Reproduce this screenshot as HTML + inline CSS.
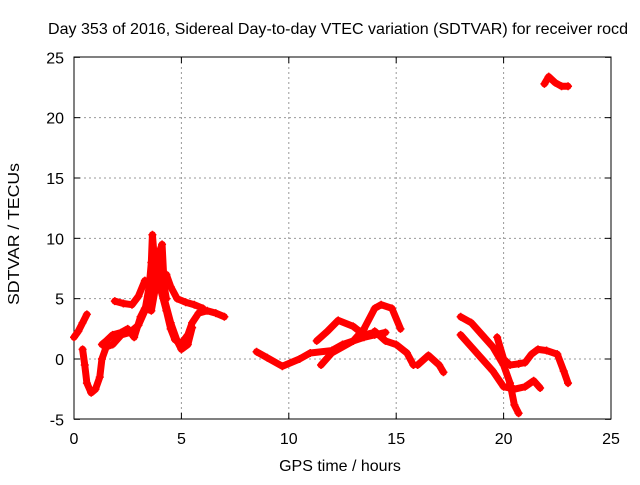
<!DOCTYPE html>
<html><head><meta charset="utf-8"><style>
body{margin:0;background:#fff;}
svg text{font-family:"Liberation Sans",sans-serif;font-size:16px;fill:#000;}
</style></head><body>
<svg width="640" height="480">
<g id="grid"></g>
<g id="axes"></g>
<g id="series"></g>
<text x="338" y="34" text-anchor="middle" textLength="580" lengthAdjust="spacingAndGlyphs">Day 353 of 2016, Sidereal Day-to-day VTEC variation (SDTVAR) for receiver rocd</text>
<text x="340" y="471" text-anchor="middle">GPS time / hours</text>
<text x="0" y="0" text-anchor="middle" textLength="142" lengthAdjust="spacingAndGlyphs" transform="translate(19,234) rotate(-90)">SDTVAR / TECUs</text>
</svg>
<script>
const xTicks=[0,5,10,15,20,25];
const yTicks=[-5,0,5,10,15,20,25];
const arcA=[[0,1.8],[0.2,2.3],[0.4,3],[0.6,3.7]];
const arcB=[[0.4,0.8],[0.5,-0.5],[0.6,-2],[0.8,-2.8],[1,-2.5],[1.2,-1.5],[1.3,0],[1.5,1],[1.8,1.2],[2.2,2],[2.6,2.2],[3,2.8],[3.3,4],[3.5,6],[3.6,8],[3.65,10.3],[3.8,7],[4,6],[4.3,4],[4.5,2.5],[4.7,1.6],[5,1.3],[5.3,2],[5.5,3],[5.8,3.8],[6.2,4],[6.6,3.8],[7,3.5]];
const arcC=[[1.3,1.2],[1.5,1.5],[1.8,2],[2.2,2.2],[2.5,2.5],[2.8,1.8],[3.1,3.5],[3.3,4.2],[3.6,4],[3.8,6],[4,9],[4.1,9.5],[4.2,6],[4.3,5]];
const arcD=[[1.9,4.8],[2.3,4.6],[2.7,4.5],[3,5.2],[3.3,6.5],[3.6,6.2],[4,6.8],[4.3,7],[4.5,6],[4.8,5],[5.2,4.7],[5.6,4.5],[6,4.2]];
const arcE=[[3.9,6.5],[4.2,5],[4.5,3],[4.8,1.5],[5,0.8],[5.3,1.2],[5.5,2.6]];
const arcF=[[8.5,0.6],[9,0.1],[9.7,-0.6],[10.5,0],[11,0.5],[12,0.7],[12.5,1.2],[13,1.5],[13.5,1.8],[14,2],[14.5,2.2]];
const arcG=[[11.3,1.5],[11.8,2.3],[12.3,3.2],[13,2.7],[13.5,2],[14,2.2]];
const arcH=[[11.5,-0.5],[12,0.5],[13,1.5],[13.5,2.5],[14,4.2],[14.3,4.5],[14.8,4.2],[15.2,2.5]];
const arcI=[[14,2.3],[14.5,1.5],[15,1.2],[15.5,0.5],[15.8,-0.5]];
const arcJ=[[16,-0.5],[16.5,0.3],[17,-0.5],[17.2,-1.1]];
const arcK=[[18,3.5],[18.5,3],[19,2],[19.5,1],[20,-0.5],[20.3,-2],[20.5,-3.8],[20.7,-4.5]];
const arcL=[[18,2],[18.5,1],[19,0],[19.5,-1],[20,-2.3],[20.5,-2.5],[21,-2.3],[21.4,-1.8],[21.7,-2.4]];
const arcM=[[19.7,1.8],[20,0],[20.3,-0.5],[20.7,-0.4],[21,-0.3],[21.3,0.4],[21.6,0.8],[22,0.7],[22.5,0.4],[22.8,-1],[23,-2]];
const arcN=[[21.9,22.8],[22.1,23.4],[22.4,22.9],[22.7,22.6],[23,22.6]];
const arcs=[arcA,arcB,arcC,arcD,arcE,arcF,arcG,arcH,arcI,arcJ,arcK,arcL,arcM,arcN];
const X=h=>74+h*(611-74)/25;
const Y=v=>359-v*(419-57)/30;
const NS="http://www.w3.org/2000/svg";
function mk(t,a,p){const e=document.createElementNS(NS,t);for(const k in a)e.setAttribute(k,a[k]);p.appendChild(e);return e;}
const grid=document.getElementById('grid'),axes=document.getElementById('axes'),ser=document.getElementById('series');
xTicks.forEach(t=>{
 if(t>0&&t<25){const g=mk('line',{x1:X(t),x2:X(t),y1:57,y2:419,stroke:'#999','stroke-dasharray':'2,3'},grid);
 
 }
 mk('line',{x1:X(t),x2:X(t),y1:419,y2:413,stroke:'#000'},axes);
 mk('line',{x1:X(t),x2:X(t),y1:57,y2:63,stroke:'#000'},axes);
 const l=mk('text',{x:X(t),y:444,'text-anchor':'middle'},axes);l.textContent=t;
 
 
});
yTicks.forEach(t=>{
 if(t>-5&&t<25){const g=mk('line',{x1:74,x2:611,y1:Y(t),y2:Y(t),stroke:'#999','stroke-dasharray':'2,3'},grid);
 
 }
 mk('line',{x1:74,x2:80,y1:Y(t),y2:Y(t),stroke:'#000'},axes);
 mk('line',{x1:611,x2:605,y1:Y(t),y2:Y(t),stroke:'#000'},axes);
 const l=mk('text',{x:64,y:Y(t)+6,'text-anchor':'end'},axes);l.textContent=t;
 
 
});
mk('rect',{x:74,y:57,width:537,height:362,fill:'none',stroke:'#000'},axes);
arcs.forEach(a=>{
 const p=mk('polyline',{points:a.map(d=>X(d[0])+','+Y(d[1])).join(' '),fill:'none',stroke:'#f00','stroke-width':7,'stroke-linejoin':'round','stroke-linecap':'round'},ser);
 
 
 a.forEach(d=>{
  const m=mk('path',{d:`M${X(d[0])-4},${Y(d[1])}h8M${X(d[0])},${Y(d[1])-4}v8`,stroke:'#f00','stroke-width':1.5},ser);
  
  
 });
});
</script>
</body></html>
